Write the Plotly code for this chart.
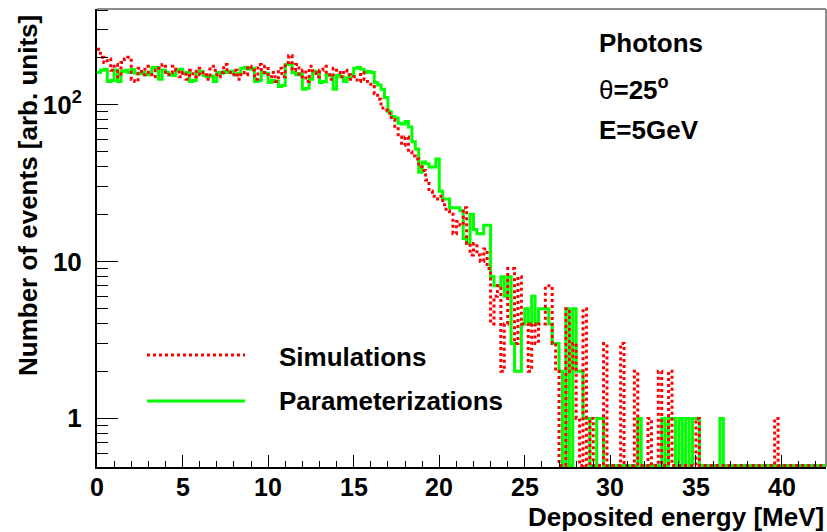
import math
import plotly.graph_objects as go

# Histogram binning: 0.2 MeV bins from 0 to 42.6 MeV
BIN_WIDTH = 0.2

# Bin contents (counts per 0.2 MeV bin), starting at 0 MeV.
# Simulations (red dotted)
sim_counts = [
    225, 200, 185, 195, 165, 180, 150, 185, 195, 200,   # 0.0 - 1.8
    145, 140, 170, 155, 175, 160, 150, 165, 170, 180,   # 2.0 - 3.8
    155, 160, 175, 165, 150, 160, 145, 165, 150, 170,   # 4.0 - 5.8
    155, 160, 145, 175, 165, 150, 160, 180, 160, 155,   # 6.0 - 7.8
    165, 145, 160, 155, 175, 165, 145, 180, 160, 175,   # 8.0 - 9.8
    150, 160, 140, 170, 150, 185, 205, 165, 180, 150,   # 10.0 - 11.8
    165, 140, 175, 160, 150, 165, 175, 155, 145, 170,   # 12.0 - 13.8
    160, 150, 165, 155, 145, 150, 140, 160, 145, 140,   # 14.0 - 15.8
    130, 117, 108, 95, 92, 88, 80, 70, 62, 55,          # 16.0 - 17.8
    62, 50, 47, 45, 40, 38, 33, 28, 26, 25,             # 18.0 - 19.8
    26, 23, 21, 20, 15, 18, 17, 22, 13, 11,             # 20.0 - 21.8
    13, 11, 10, 12, 9, 4, 6, 7, 2, 4,                   # 22.0 - 23.8
    9, 9, 3, 8, 4, 4, 2, 4, 3, 4,                       # 24.0 - 25.8
    4, 7, 7, 3, 2, 0, 0, 5, 2, 3,                       # 26.0 - 27.8
    1, 0, 5, 0, 1, 0, 0, 0, 3, 0,                       # 28.0 - 29.8
    0, 0, 0, 3, 0, 0, 0, 2, 0, 0,                       # 30.0 - 31.8
    0, 1, 0, 0, 2, 0, 0, 2, 0, 0,                       # 32.0 - 33.8
    0, 0, 0, 0, 0, 1, 0, 0, 0, 0,                       # 34.0 - 35.8
    0, 0, 0, 0, 0, 0, 0, 0, 0, 0,                       # 36.0 - 37.8
    0, 0, 0, 0, 0, 0, 0, 0, 1, 0,                       # 38.0 - 39.8
    0, 0, 0, 0, 0, 0, 0, 0, 0, 0,                       # 40.0 - 41.8
    0, 0, 0,                                            # 42.0 - 42.4
]

# Parameterizations (green solid)
par_counts = [
    160, 165, 168, 140, 142, 166, 140, 162, 165, 160,   # 0.0 - 1.8
    167, 158, 157, 160, 155, 157, 172, 172, 145, 165,   # 2.0 - 3.8
    160, 155, 153, 165, 168, 158, 160, 140, 142, 160,   # 4.0 - 5.8
    162, 153, 150, 152, 140, 160, 158, 162, 160, 163,   # 6.0 - 7.8
    155, 157, 170, 172, 168, 170, 140, 142, 160, 158,   # 8.0 - 9.8
    138, 142, 140, 130, 132, 180, 182, 160, 155, 157,   # 10.0 - 11.8
    125, 127, 145, 163, 160, 138, 140, 155, 153, 125,   # 12.0 - 13.8
    153, 150, 140, 148, 155, 170, 172, 168, 160, 162,   # 14.0 - 15.8
    160, 138, 133, 125, 111, 90, 84, 82, 76, 75,        # 16.0 - 17.8
    78, 72, 58, 52, 37, 43, 42, 40, 40, 45,             # 18.0 - 19.8
    28, 25, 25, 22, 22, 22, 21, 14, 13, 20,             # 20.0 - 21.8
    16, 15, 15, 17, 17, 8, 7, 7, 8, 6,                  # 22.0 - 23.8
    8, 3, 2, 2, 4, 5, 4, 6, 4, 5,                       # 24.0 - 25.8
    5, 5, 4, 3, 3, 2, 0, 5, 0, 5,                       # 26.0 - 27.8
    2, 2, 1, 1, 0, 0, 1, 1, 0, 0,                       # 28.0 - 29.8
    0, 0, 0, 0, 0, 0, 0, 0, 1, 0,                       # 30.0 - 31.8
    0, 0, 0, 0, 0, 1, 0, 1, 1, 0,                       # 32.0 - 33.8
    1, 0, 1, 0, 1, 1, 0, 0, 0, 0,                       # 34.0 - 35.8
    0, 0, 1, 0, 0, 0, 0, 0, 0, 0,                       # 36.0 - 37.8
    0, 0, 0, 0, 0, 0, 0, 0, 0, 0,                       # 38.0 - 39.8
    0, 0, 0, 0, 0, 0, 0, 0, 0, 0,                       # 40.0 - 41.8
    0, 0, 0,                                            # 42.0 - 42.4
]

x_tick_vals = [0, 5, 10, 15, 20, 25, 30, 35, 40]
y_tick_vals = [1, 10, 100]
y_tick_text = ["1", "10", "10<sup>2</sup>"]
y_minor_vals = [0.6, 0.7, 0.8, 0.9, 2, 3, 4, 5, 6, 7, 8, 9,
                20, 30, 40, 50, 60, 70, 80, 90, 200, 300, 400]

info_lines = ["Photons", "<span style='font-weight:normal'>θ</span>=25<sup>o</sup>", "E=5GeV"]
legend_labels = ["Simulations", "Parameterizations"]
x_title = "Deposited energy [MeV]"
y_title = "Number of events [arb. units]"

X_MAX = 42.6
Y_MIN, Y_MAX = 0.49, 406.0
FLOOR = 0.5  # empty bins are drawn on the frame bottom

W, H = 827, 532
L, R, T, B = 97, 1, 9, 65
FONT = "Liberation Sans, Arial, sans-serif"


def step_xy(counts):
    edges = [round(i * BIN_WIDTH, 4) for i in range(len(counts) + 1)]
    ys = [c if c > 0 else FLOOR for c in counts]
    ys = ys + [ys[-1]]
    return edges, ys


def px(x):
    return (x - L) / (W - L - R)


def py(y):
    return (H - B - y) / (H - T - B)


fig = go.Figure()

gx, gy = step_xy(par_counts)
fig.add_trace(go.Scatter(x=gx, y=gy, mode="lines", line_shape="hv",
                         line=dict(color="#00ff00", width=3),
                         name=legend_labels[1], showlegend=False))

rx, ry = step_xy(sim_counts)
fig.add_trace(go.Scatter(x=rx, y=ry, mode="lines", line_shape="hv",
                         line=dict(color="#ff0000", width=3, dash="3px,3px"),
                         name=legend_labels[0], showlegend=False))

tick_font = dict(family=FONT, size=26, color="black", weight="bold")

# x tick labels are placed as annotations (see below) to sit snug under the frame
fig.update_xaxes(
    range=[0, X_MAX], showgrid=False, zeroline=False,
    showline=True, linecolor="black", linewidth=2,
    ticks="inside", ticklen=12, tickwidth=1, tickcolor="black",
    tickvals=x_tick_vals, showticklabels=False,
    minor=dict(ticks="inside", ticklen=6, tickwidth=1, tickcolor="black", dtick=1),
)
fig.update_yaxes(
    type="log", range=[math.log10(Y_MIN), math.log10(Y_MAX)],
    showgrid=False, zeroline=False,
    showline=True, linecolor="black", linewidth=2,
    ticks="inside", ticklen=21, tickwidth=1, tickcolor="black",
    tickvals=y_tick_vals, ticktext=y_tick_text, tickfont=tick_font,
    ticklabelstandoff=8,
    minor=dict(ticks="inside", ticklen=11, tickwidth=1, tickcolor="black",
               tickvals=y_minor_vals),
)

shapes = [
    # upper and right frame edges
    dict(type="line", xref="paper", yref="paper", x0=0, x1=1, y0=1, y1=1,
         line=dict(color="#8c8c8c", width=2)),
    dict(type="line", xref="paper", yref="paper", x0=1, x1=1, y0=0, y1=1,
         line=dict(color="#8c8c8c", width=2)),
    # legend samples
    dict(type="line", xref="paper", yref="paper", x0=px(147), x1=px(245),
         y0=py(355), y1=py(355), line=dict(color="#ff0000", width=3, dash="3px,3px")),
    dict(type="line", xref="paper", yref="paper", x0=px(147), x1=px(245),
         y0=py(401), y1=py(401), line=dict(color="#00ff00", width=3)),
]

text_font = dict(family=FONT, size=26, color="black", weight="bold")
annotations = [
    dict(text=legend_labels[0], x=px(277), y=py(357)),
    dict(text=legend_labels[1], x=px(277), y=py(401)),
    dict(text=info_lines[0], x=px(597), y=py(43)),
    dict(text=info_lines[1], x=px(597), y=py(88)),
    dict(text=info_lines[2], x=px(597), y=py(130)),
]
for a in annotations:
    a.update(xref="paper", yref="paper", xanchor="left", yanchor="middle",
             showarrow=False, font=text_font)

for v in x_tick_vals:
    annotations.append(dict(text=str(v), x=v, xref="x", y=py(487), yref="paper",
                            xanchor="center", yanchor="middle", showarrow=False,
                            borderpad=0, font=dict(text_font, size=25)))

annotations.append(dict(text=x_title, x=px(825), y=py(517),
                        xref="paper", yref="paper", xanchor="right", yanchor="middle",
                        borderpad=0, showarrow=False, font=text_font))
annotations.append(dict(text=y_title, x=px(28), y=py(196),
                        xref="paper", yref="paper", xanchor="center", yanchor="middle",
                        textangle=-90, showarrow=False, font=text_font))

fig.update_layout(
    width=W, height=H,
    margin=dict(l=L, r=R, t=T, b=B, autoexpand=False),
    paper_bgcolor="white", plot_bgcolor="white",
    shapes=shapes, annotations=annotations, showlegend=False,
)

fig.write_html("out.html")
